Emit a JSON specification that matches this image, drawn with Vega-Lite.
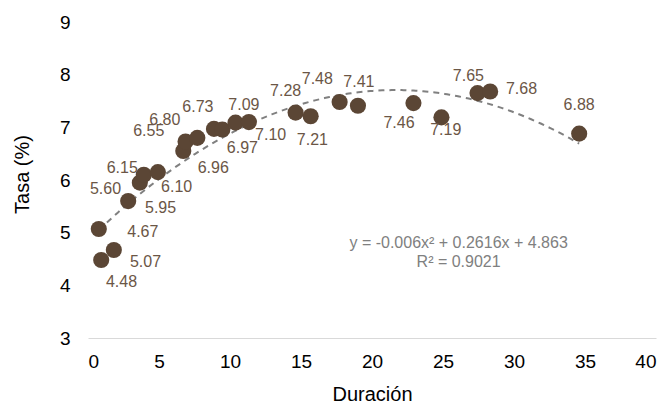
{
  "$schema": "https://vega.github.io/schema/vega-lite/v6.json",
  "autosize": {"type": "none"},
  "width": 568,
  "height": 316,
  "padding": {"left": 88, "top": 22, "right": 10, "bottom": 73},
  "background": "white",
  "config": {
    "font": "Liberation Sans",
    "view": {"stroke": null},
    "axis": {"grid": false, "ticks": false, "labelFont": "Liberation Sans", "titleFont": "Liberation Sans", "labelFontSize": 19, "titleFontSize": 20, "labelColor": "#000000", "titleColor": "#000000", "titleFontWeight": "normal"}
  },
  "datasets": {
    "pts": [
      {"d": 0.76, "t": 5.07},
      {"d": 0.93, "t": 4.48},
      {"d": 1.82, "t": 4.67},
      {"d": 2.83, "t": 5.60},
      {"d": 3.65, "t": 5.95},
      {"d": 3.93, "t": 6.10},
      {"d": 4.92, "t": 6.15},
      {"d": 6.71, "t": 6.55},
      {"d": 6.87, "t": 6.73},
      {"d": 7.70, "t": 6.80},
      {"d": 8.87, "t": 6.97},
      {"d": 9.46, "t": 6.96},
      {"d": 10.39, "t": 7.09},
      {"d": 11.33, "t": 7.10},
      {"d": 14.62, "t": 7.28},
      {"d": 15.68, "t": 7.21},
      {"d": 17.72, "t": 7.48},
      {"d": 19.01, "t": 7.41},
      {"d": 22.92, "t": 7.46},
      {"d": 24.89, "t": 7.19},
      {"d": 27.43, "t": 7.65},
      {"d": 28.32, "t": 7.68},
      {"d": 34.59, "t": 6.88}
    ],
    "labs": [
      {"lx": 2.36, "ly": 4.07, "txt": "4.48"},
      {"lx": 4.05, "ly": 4.45, "txt": "5.07"},
      {"lx": 3.86, "ly": 5.02, "txt": "4.67"},
      {"lx": 1.23, "ly": 5.83, "txt": "5.60"},
      {"lx": 5.11, "ly": 5.46, "txt": "5.95"},
      {"lx": 6.24, "ly": 5.86, "txt": "6.10"},
      {"lx": 2.41, "ly": 6.22, "txt": "6.15"},
      {"lx": 4.28, "ly": 6.93, "txt": "6.55"},
      {"lx": 5.41, "ly": 7.13, "txt": "6.80"},
      {"lx": 7.74, "ly": 7.39, "txt": "6.73"},
      {"lx": 8.82, "ly": 6.22, "txt": "6.96"},
      {"lx": 10.87, "ly": 6.60, "txt": "6.97"},
      {"lx": 10.98, "ly": 7.42, "txt": "7.09"},
      {"lx": 12.86, "ly": 6.85, "txt": "7.10"},
      {"lx": 13.92, "ly": 7.69, "txt": "7.28"},
      {"lx": 16.15, "ly": 7.92, "txt": "7.48"},
      {"lx": 19.08, "ly": 7.86, "txt": "7.41"},
      {"lx": 15.80, "ly": 6.76, "txt": "7.21"},
      {"lx": 21.90, "ly": 7.08, "txt": "7.46"},
      {"lx": 25.19, "ly": 6.95, "txt": "7.19"},
      {"lx": 26.79, "ly": 7.97, "txt": "7.65"},
      {"lx": 30.53, "ly": 7.72, "txt": "7.68"},
      {"lx": 34.59, "ly": 7.42, "txt": "6.88"}
    ],
    "eq": [
      {"ex": 26.1, "ey": 4.80, "txt": "y = -0.006x² + 0.2616x + 4.863"},
      {"ex": 26.1, "ey": 4.44, "txt": "R² = 0.9021"}
    ]
  },
  "layer": [
    {
      "data": {"name": "pts"},
      "transform": [{"regression": "t", "on": "d", "method": "poly", "order": 2}],
      "mark": {"type": "line", "color": "#808080", "strokeWidth": 2, "strokeDash": [6, 5]},
      "encoding": {
        "x": {"field": "d", "type": "quantitative", "scale": {"domain": [0, 40], "nice": false},
          "axis": {"values": [0, 5, 10, 15, 20, 25, 30, 35, 40], "title": "Duración", "domainColor": "#d9d9d9", "domainWidth": 1, "labelPadding": 14, "titlePadding": 13}},
        "y": {"field": "t", "type": "quantitative", "scale": {"domain": [3, 9], "nice": false},
          "axis": {"values": [3, 4, 5, 6, 7, 8, 9], "title": "Tasa (%)", "domain": false, "labelPadding": 18, "titlePadding": 27, "titleY": 152}}
      }
    },
    {
      "data": {"name": "pts"},
      "mark": {"type": "circle", "size": 260, "color": "#5b4635", "opacity": 1},
      "encoding": {
        "x": {"field": "d", "type": "quantitative"},
        "y": {"field": "t", "type": "quantitative"}
      }
    },
    {
      "data": {"name": "labs"},
      "mark": {"type": "text", "fontSize": 16, "color": "#6b5646", "font": "Liberation Sans", "align": "center", "baseline": "middle"},
      "encoding": {
        "x": {"field": "lx", "type": "quantitative"},
        "y": {"field": "ly", "type": "quantitative"},
        "text": {"field": "txt"}
      }
    },
    {
      "data": {"name": "eq"},
      "mark": {"type": "text", "fontSize": 16, "color": "#808080", "font": "Liberation Sans", "align": "center", "baseline": "middle"},
      "encoding": {
        "x": {"field": "ex", "type": "quantitative"},
        "y": {"field": "ey", "type": "quantitative"},
        "text": {"field": "txt"}
      }
    }
  ]
}
